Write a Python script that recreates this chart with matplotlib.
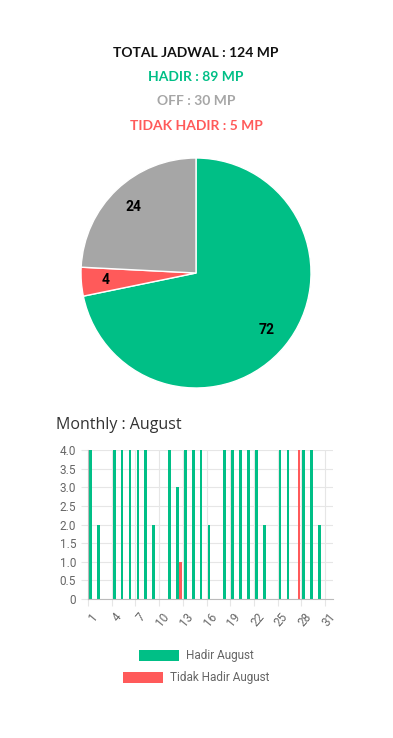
import numpy as np
import matplotlib
matplotlib.use("Agg")
import matplotlib.pyplot as plt
from matplotlib.transforms import ScaledTranslation

# data
total = 124
hadir = 89
off = 30
tidak = 5
pie_values = [hadir, tidak, off]
pie_colors = ["#00BF86", "#FF5A5A", "#A6A6A6"]

days = list(range(1, 32))
hadir_aug = [4, 2, 0, 4, 4, 4, 4, 4, 2, 0, 4, 3, 4, 4, 4, 2, 0, 4, 4, 4, 4, 4, 2, 0, 4, 4, 0, 4, 4, 2, 0]
tidak_aug = [0, 0, 0, 0, 0, 0, 0, 0, 0, 0, 0, 1, 0, 0, 0, 0, 0, 0, 0, 0, 0, 0, 0, 0, 0, 0, 4, 0, 0, 0, 0]

W, H = 393, 738
fig = plt.figure(figsize=(W / 100, H / 100), dpi=100)

def fx(px):
    return px / W

def fy(py):
    return 1 - py / H

# header lines
fig.text(fx(196), fy(53), f"TOTAL JADWAL : {total} MP", ha="center", va="center",
         fontsize=10, fontweight="bold", family="Lato", color="#111111")
fig.text(fx(196), fy(77), f"HADIR : {hadir} MP", ha="center", va="center",
         fontsize=10, fontweight="bold", family="Lato", color=pie_colors[0])
fig.text(fx(196), fy(101), f"OFF : {off} MP", ha="center", va="center",
         fontsize=10, fontweight="bold", family="Lato", color=pie_colors[2])
fig.text(fx(196), fy(126), f"TIDAK HADIR : {tidak} MP", ha="center", va="center",
         fontsize=10, fontweight="bold", family="Lato", color=pie_colors[1])

# pie
r = 115
cx, cy = 196, 273
pax = fig.add_axes([fx(cx - r), fy(cy + r), (2 * r) / W, (2 * r) / H])
pax.pie(pie_values, colors=pie_colors, startangle=90, counterclock=False,
        wedgeprops=dict(edgecolor="white", linewidth=1),
        autopct=lambda p: f"{p:.0f}", pctdistance=0.79,
        textprops=dict(fontsize=10, fontweight="bold", family="Roboto", color="black"))
pax.set_xlim(-1, 1)
pax.set_ylim(-1, 1)
pax.set_aspect("equal")
pax.axis("off")

# monthly title
fig.text(fx(56), fy(425), "Monthly : August", ha="left", va="center",
         fontsize=11.5, family="Open Sans", color="#333333")

# bar chart
left, right, top, bottom = 88, 333, 450, 599
ax = fig.add_axes([fx(left), fy(bottom), (right - left) / W, (bottom - top) / H])
x = np.arange(len(days))
b1 = ax.bar(x - 0.19, hadir_aug, width=0.34, color=pie_colors[0], label="Hadir August")
b2 = ax.bar(x + 0.21, tidak_aug, width=0.34, color=pie_colors[1], label="Tidak Hadir August")
ax.set_xlim(-0.5, len(days) - 0.5)
ax.set_ylim(0, 4)
ax.set_yticks(np.arange(0, 4.01, 0.5))
ax.set_yticklabels(["0"] + [f"{v:.1f}" for v in np.arange(0.5, 4.01, 0.5)])
ax.set_xticks(x[::3] - 0.5)
ax.set_xticklabels([str(d) for d in days[::3]], rotation=50, ha="right", va="top",
                   rotation_mode="anchor")
ax.grid(True, color="#E6E6E6", linewidth=0.8)
ax.set_axisbelow(True)
for s in ["top", "right"]:
    ax.spines[s].set_visible(False)
for s in ["left", "bottom"]:
    ax.spines[s].set_color("#BBBBBB")
ax.tick_params(axis="both", length=5, color="#E6E6E6", labelcolor="#666666", labelsize=8.5)
for lab in ax.get_xticklabels() + ax.get_yticklabels():
    lab.set_family("Roboto")
shift = ScaledTranslation(3 / 100, 0, fig.dpi_scale_trans)
for lab in ax.get_xticklabels():
    lab.set_transform(lab.get_transform() + shift)

# legend, each row centred on its own
fig.legend(handles=[b1], loc="center", bbox_to_anchor=(fx(196), fy(656)), frameon=False,
           handlelength=3.4, handleheight=1.1, handletextpad=0.6,
           prop=dict(family="Roboto", size=8.5), labelcolor="#666666")
fig.legend(handles=[b2], loc="center", bbox_to_anchor=(fx(196), fy(678)), frameon=False,
           handlelength=3.4, handleheight=1.1, handletextpad=0.6,
           prop=dict(family="Roboto", size=8.5), labelcolor="#666666")

fig.savefig("out.png", dpi=100)
